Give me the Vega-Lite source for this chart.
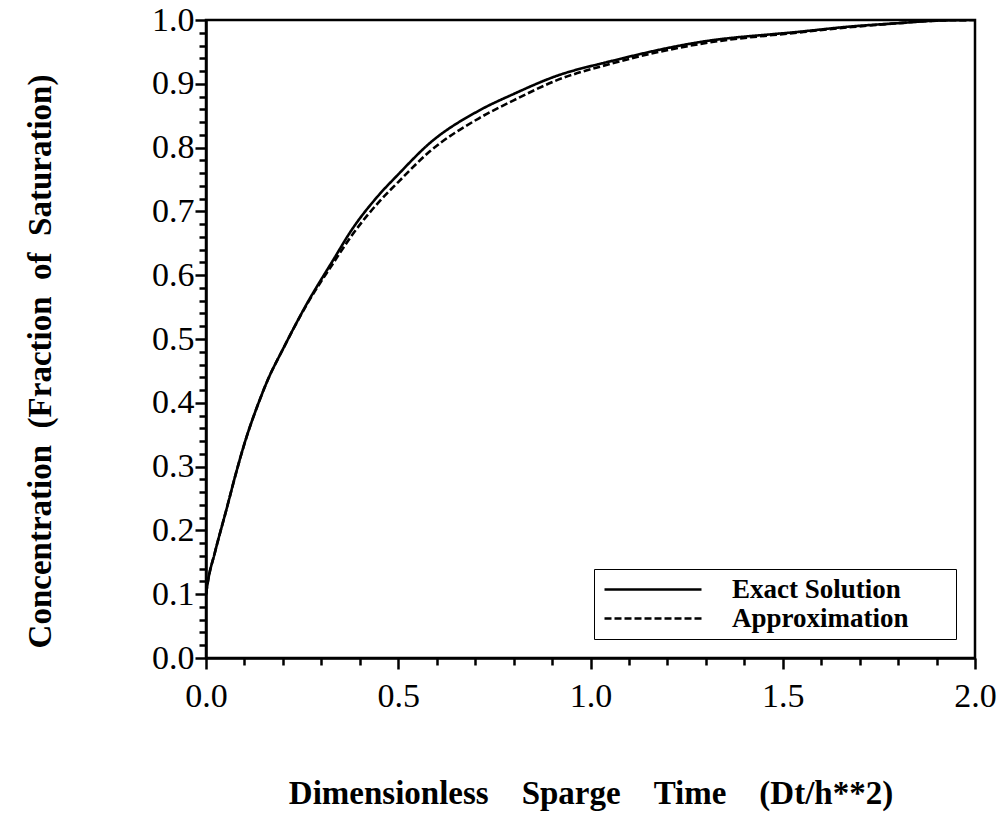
{
  "$schema": "https://vega.github.io/schema/vega-lite/v6.json",
  "width": 769,
  "height": 638,
  "autosize": "none",
  "padding": {"left": 206, "top": 20, "right": 27, "bottom": 166},
  "background": "white",
  "data": {"values": [
    {"series": "Exact Solution", "x": 0.0, "y": 0.10},
    {"series": "Exact Solution", "x": 0.005, "y": 0.12},
    {"series": "Exact Solution", "x": 0.023, "y": 0.165},
    {"series": "Exact Solution", "x": 0.055, "y": 0.237},
    {"series": "Exact Solution", "x": 0.075, "y": 0.283},
    {"series": "Exact Solution", "x": 0.1, "y": 0.336},
    {"series": "Exact Solution", "x": 0.14, "y": 0.405},
    {"series": "Exact Solution", "x": 0.16, "y": 0.435},
    {"series": "Exact Solution", "x": 0.2, "y": 0.484},
    {"series": "Exact Solution", "x": 0.263, "y": 0.556},
    {"series": "Exact Solution", "x": 0.33, "y": 0.623},
    {"series": "Exact Solution", "x": 0.38, "y": 0.672},
    {"series": "Exact Solution", "x": 0.45, "y": 0.726},
    {"series": "Exact Solution", "x": 0.5, "y": 0.758},
    {"series": "Exact Solution", "x": 0.58, "y": 0.806},
    {"series": "Exact Solution", "x": 0.71, "y": 0.858},
    {"series": "Exact Solution", "x": 0.8, "y": 0.884},
    {"series": "Exact Solution", "x": 0.91, "y": 0.912},
    {"series": "Exact Solution", "x": 1.05, "y": 0.935},
    {"series": "Exact Solution", "x": 1.28, "y": 0.965},
    {"series": "Exact Solution", "x": 1.55, "y": 0.982},
    {"series": "Exact Solution", "x": 1.68, "y": 0.99},
    {"series": "Exact Solution", "x": 1.8, "y": 0.995},
    {"series": "Exact Solution", "x": 1.9, "y": 0.999},
    {"series": "Exact Solution", "x": 2.0, "y": 1.0},
    {"series": "Approximation", "x": 0.0, "y": 0.10},
    {"series": "Approximation", "x": 0.005, "y": 0.12},
    {"series": "Approximation", "x": 0.023, "y": 0.165},
    {"series": "Approximation", "x": 0.055, "y": 0.237},
    {"series": "Approximation", "x": 0.075, "y": 0.283},
    {"series": "Approximation", "x": 0.1, "y": 0.336},
    {"series": "Approximation", "x": 0.14, "y": 0.405},
    {"series": "Approximation", "x": 0.16, "y": 0.435},
    {"series": "Approximation", "x": 0.2, "y": 0.484},
    {"series": "Approximation", "x": 0.263, "y": 0.555},
    {"series": "Approximation", "x": 0.33, "y": 0.618},
    {"series": "Approximation", "x": 0.38, "y": 0.663},
    {"series": "Approximation", "x": 0.45, "y": 0.715},
    {"series": "Approximation", "x": 0.5, "y": 0.746},
    {"series": "Approximation", "x": 0.58, "y": 0.793},
    {"series": "Approximation", "x": 0.71, "y": 0.846},
    {"series": "Approximation", "x": 0.8, "y": 0.874},
    {"series": "Approximation", "x": 0.91, "y": 0.905},
    {"series": "Approximation", "x": 1.05, "y": 0.931},
    {"series": "Approximation", "x": 1.28, "y": 0.962},
    {"series": "Approximation", "x": 1.55, "y": 0.981},
    {"series": "Approximation", "x": 1.68, "y": 0.989},
    {"series": "Approximation", "x": 1.8, "y": 0.995},
    {"series": "Approximation", "x": 1.9, "y": 0.999},
    {"series": "Approximation", "x": 2.0, "y": 1.0}
  ]},
  "layer": [
    {
      "mark": {"type": "line", "color": "black", "strokeWidth": 2.6, "interpolate": "monotone", "clip": true},
      "encoding": {
        "x": {"field": "x", "type": "quantitative",
          "scale": {"domain": [0, 2], "nice": false, "zero": false},
          "axis": {"values": [0, 0.5, 1, 1.5, 2], "format": ".1f", "tickSize": 11, "labelPadding": 10, "labelFlush": false,
            "title": "Dimensionless\u00a0\u00a0\u00a0\u00a0Sparge\u00a0\u00a0\u00a0\u00a0Time\u00a0\u00a0\u00a0\u00a0(Dt/h**2)",
            "titleBaseline": "alphabetic", "titleY": 145}},
        "y": {"field": "y", "type": "quantitative",
          "scale": {"domain": [0, 1], "nice": false, "zero": false},
          "axis": {"values": [0, 0.1, 0.2, 0.3, 0.4, 0.5, 0.6, 0.7, 0.8, 0.9, 1.0], "format": ".1f", "tickSize": 11, "labelPadding": 1, "labelFlush": false,
            "title": "Concentration\u00a0\u00a0(Fraction\u00a0\u00a0of\u00a0\u00a0Saturation)",
            "titleBaseline": "alphabetic", "titleX": -156, "titleY": 341}},
        "strokeDash": {"field": "series", "type": "nominal",
          "scale": {"domain": ["Exact Solution", "Approximation"], "range": [[1, 0], [7, 3]]},
          "legend": {"title": null, "orient": "bottom-right", "offset": 19, "strokeColor": "black", "fillColor": "white",
            "padding": 7, "symbolType": "M-4.85,0H4.85", "symbolSize": 400, "symbolStrokeWidth": 2.6, "symbolStrokeColor": "black",
            "symbolFillColor": "transparent", "symbolOffset": 38.5,
            "labelFontSize": 27, "labelFont": "Liberation Serif", "labelFontWeight": "bold", "labelColor": "black",
            "labelOffset": 65.5, "rowPadding": 1, "labelLimit": 500,
            "labelExpr": "datum.label + '\u2800\u2800'"}}
      }
    },
    {
      "mark": {"type": "point", "opacity": 0},
      "encoding": {
        "x": {"field": "x", "type": "quantitative",
          "axis": {"orient": "bottom", "values": [0.1, 0.2, 0.3, 0.4, 0.6, 0.7, 0.8, 0.9, 1.1, 1.2, 1.3, 1.4, 1.6, 1.7, 1.8, 1.9], "labels": false, "domain": false, "tickSize": 7, "title": null}},
        "y": {"field": "y", "type": "quantitative",
          "axis": {"orient": "left", "values": [0.02, 0.04, 0.06, 0.08, 0.12, 0.14, 0.16, 0.18, 0.22, 0.24, 0.26, 0.28, 0.32, 0.34, 0.36, 0.38, 0.42, 0.44, 0.46, 0.48, 0.52, 0.54, 0.56, 0.58, 0.62, 0.64, 0.66, 0.68, 0.72, 0.74, 0.76, 0.78, 0.82, 0.84, 0.86, 0.88, 0.92, 0.94, 0.96, 0.98], "labels": false, "domain": false, "tickSize": 7, "title": null}}
      }
    }
  ],
  "resolve": {"axis": {"x": "independent", "y": "independent"}},
  "config": {
    "view": {"stroke": "black", "strokeWidth": 2.5},
    "axis": {"domainColor": "black", "domainWidth": 2.5, "tickColor": "black", "tickWidth": 2.5, "grid": false,
      "labelFont": "Liberation Serif", "labelFontSize": 34, "labelColor": "black",
      "titleFont": "Liberation Serif", "titleFontSize": 33, "titleFontWeight": "bold", "titleColor": "black"}
  }
}
